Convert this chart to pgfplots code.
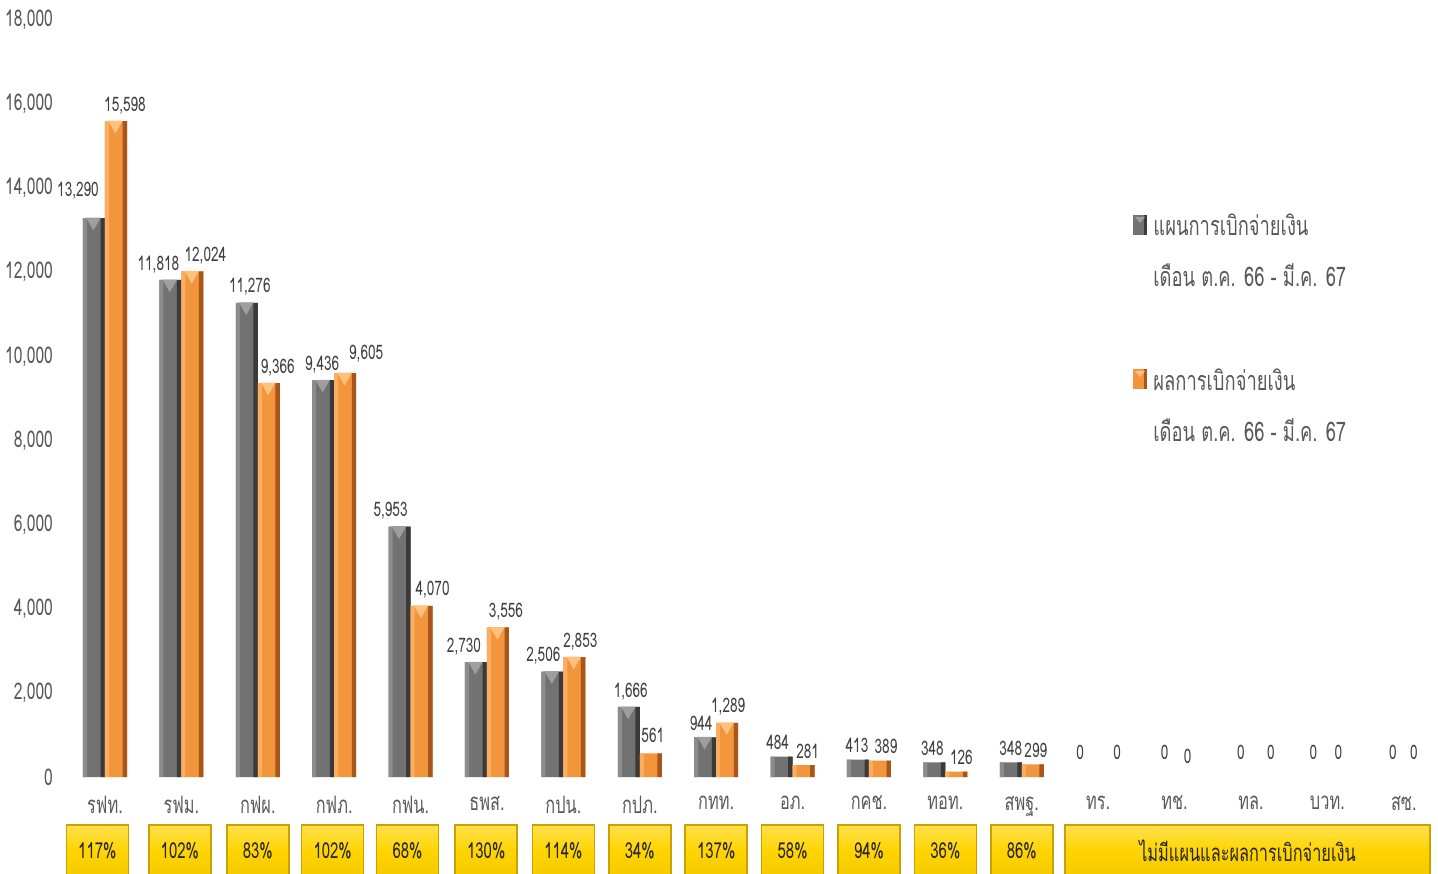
\documentclass[border=0pt]{standalone}
\usepackage{pgfplots}
\usepackage{pgfplotstable}
\pgfplotsset{compat=1.18}
\usepackage{fontspec}
\setmainfont{Loma}[Script=Thai, FakeStretch=0.68]
\definecolor{lblgray}{HTML}{595959}
\definecolor{valgray}{HTML}{404040}
\definecolor{gL}{HTML}{8C8C8C}
\definecolor{gM}{HTML}{727272}
\definecolor{gR}{HTML}{3A3A3A}
\definecolor{gT}{HTML}{9E9E9E}
\definecolor{oL}{HTML}{FBAE62}
\definecolor{oM}{HTML}{F2953C}
\definecolor{oR}{HTML}{A8561B}
\definecolor{oT}{HTML}{FFC27E}
\definecolor{ybox}{HTML}{FFD400}
\definecolor{yedge}{HTML}{C9A200}

% x = category index; plan / result in million baht; gdx, odx, gdy, ody = label offsets (pt)
\pgfplotstableread{
x plan result gdx odx gdy ody
0 13290 15598 -13.5 10 6 0
1 11818 12024 -11.5 12 0 0
2 11276 9366 -4 10 0 0
3 9436 9605 -6 16 0 2
4 5953 4070 -10 11 0 0
5 2730 3556 -11.5 9.5 0 0
6 2506 2853 -10 8.5 0 0
7 1666 561 -4.5 6.5 0 2
8 944 1289 -7.5 6 0 0
9 484 281 -7.5 7.5 0 0
10 413 389 -6 8.5 0 0
11 348 126 -6.5 8 0 0
12 348 299 -5.5 7 0 0
13 0 0 -9 9.5 5 5
14 0 0 -5 6.5 5 3
15 0 0 -5 10 5 5
16 0 0 -7 5.5 5 5
17 0 0 -5.5 5 5 5
}\data

\tikzset{pbox/.style={draw=yedge, line width=0.8pt, top color=ybox!70!white, bottom color=ybox!80!yedge, middle color=ybox,
  minimum height=26pt, inner sep=0pt, font=\fontsize{11}{13}\selectfont, text=black!85}}
\newcommand\pbox[2]{\node[pbox, minimum width=31pt] at ([yshift=-37pt]axis cs:#1,0) {#2};}

\begin{document}
\begin{tikzpicture}
\begin{axis}[
    at={(30pt,48pt)}, anchor=south west,
    scale only axis,
    width=689pt, height=378.5pt,
    xmin=-0.589, xmax=17.448,
    ymin=0, ymax=18000,
    axis line style={draw=none},
    tick style={draw=none},
    xtick={0,...,17},
    xticklabels={รฟท.,รฟม.,กฟผ.,กฟภ.,กฟน.,ธพส.,กปน.,กปภ.,กทท.,อภ.,กคช.,ทอท.,สพฐ.,ทร.,ทช.,ทล.,บวท.,สซ.},
    xticklabel style={font=\fontsize{12}{14}\selectfont, text=lblgray, yshift=-6pt},
    ytick={0,2000,...,18000},
    scaled y ticks=false,
    yticklabel style={font=\fontsize{11.5}{13}\selectfont, text=lblgray},
    /pgf/number format/1000 sep={,},
    /pgf/number format/assume math mode=true,
    every node near coord/.append style={font=\fontsize{10}{12}\selectfont, text=valgray, anchor=south},
    clip=false,
]
% plan (gray)
\addplot[ybar, bar width=11pt, bar shift=-5.5pt, fill=gM, draw=none, restrict y to domain=1:20000] table[x=x, y=plan] {\data};
\addplot[ybar, bar width=2pt, bar shift=-10pt, fill=gL, draw=none, restrict y to domain=1:20000] table[x=x, y=plan] {\data};
\addplot[ybar, bar width=2.2pt, bar shift=-1.1pt, fill=gR, draw=none, restrict y to domain=1:20000] table[x=x, y=plan] {\data};
\addplot[only marks, mark=triangle*, mark size=3.8pt, draw=gT, fill=gT, restrict y to domain=600:20000,
    mark options={xshift=-5.8pt, yshift=-1.9pt, rotate=180, draw=gT, fill=gT}]
    table[x=x, y=plan] {\data};
\addplot[draw=none, mark=none,
    visualization depends on={\thisrow{gdx} \as \dx},
    visualization depends on={\thisrow{gdy} \as \dy},
    nodes near coords, every node near coord/.append style={xshift=\dx pt, yshift=\dy pt}]
    table[x=x, y=plan] {\data};
% result (orange)
\addplot[ybar, bar width=11pt, bar shift=5.5pt, fill=oM, draw=none, restrict y to domain=1:20000] table[x=x, y=result] {\data};
\addplot[ybar, bar width=2pt, bar shift=1pt, fill=oL, draw=none, restrict y to domain=1:20000] table[x=x, y=result] {\data};
\addplot[ybar, bar width=2.2pt, bar shift=9.9pt, fill=oR, draw=none, restrict y to domain=1:20000] table[x=x, y=result] {\data};
\addplot[only marks, mark=triangle*, mark size=3.8pt, draw=oT, fill=oT, restrict y to domain=600:20000,
    mark options={xshift=5.2pt, yshift=-1.9pt, rotate=180, draw=oT, fill=oT}]
    table[x=x, y=result] {\data};
\addplot[draw=none, mark=none,
    visualization depends on={\thisrow{odx} \as \dx},
    visualization depends on={\thisrow{ody} \as \dy},
    nodes near coords, every node near coord/.append style={xshift=\dx pt, yshift=\dy pt}]
    table[x=x, y=result] {\data};

\pbox{-0.1}{117\%}
\pbox{0.98}{102\%}
\pbox{2.0}{83\%}
\pbox{2.98}{102\%}
\pbox{3.96}{68\%}
\pbox{4.99}{130\%}
\pbox{6.0}{114\%}
\pbox{7.0}{34\%}
\pbox{8.0}{137\%}
\pbox{9.0}{58\%}
\pbox{10.0}{94\%}
\pbox{11.0}{36\%}
\pbox{12.0}{86\%}
\node[pbox, minimum width=182.5pt, font=\fontsize{12}{14}\selectfont] at ([yshift=-37pt]axis cs:14.954,0) {ไม่มีแผนและผลการเบิกจ่ายเงิน};
\end{axis}

% legend
\begin{scope}[font=\fontsize{13.5}{16}\selectfont, text=lblgray]
\fill[gM] (566.5pt,319pt) rectangle (573.5pt,329pt);
\fill[gR] (572pt,319pt) rectangle (573.5pt,329pt);
\fill[gT] (567.5pt,328pt) -- (572.5pt,328pt) -- (570pt,325pt) -- cycle;
\node[anchor=west, inner sep=0pt] at (576.5pt,324pt) {แผนการเบิกจ่ายเงิน};
\node[anchor=west, inner sep=0pt] at (576.5pt,299pt) {เดือน ต.ค. 66 - มี.ค. 67};
\fill[oM] (566.5pt,242pt) rectangle (573.5pt,252pt);
\fill[oR] (572pt,242pt) rectangle (573.5pt,252pt);
\fill[oT] (567.5pt,251pt) -- (572.5pt,251pt) -- (570pt,248pt) -- cycle;
\node[anchor=west, inner sep=0pt] at (576.5pt,246.5pt) {ผลการเบิกจ่ายเงิน};
\node[anchor=west, inner sep=0pt] at (576.5pt,221.5pt) {เดือน ต.ค. 66 - มี.ค. 67};
\end{scope}

\pgfresetboundingbox
\path[use as bounding box] (0,0) rectangle (719pt,436.5pt);
\end{tikzpicture}
\end{document}
